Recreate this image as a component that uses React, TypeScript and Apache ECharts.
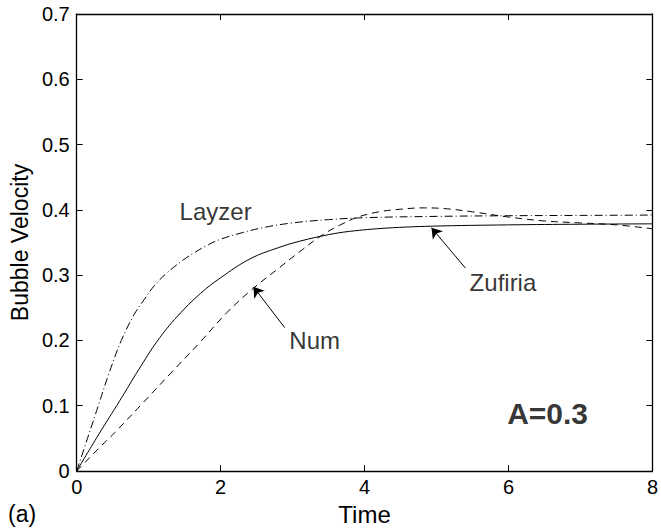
import React, { useEffect, useRef } from "react";
import * as echarts from "echarts";

// Layzer model (dash-dot)
const layzerT = [0, 0.15, 0.3, 0.45, 0.62, 0.8, 0.94, 1.08, 1.25, 1.49, 1.63, 1.8, 2.0, 2.3, 2.6, 3.0, 3.5, 4.0, 5.0, 6.0, 7.0, 8.0];
const layzerV = [0, 0.05, 0.1, 0.15, 0.2, 0.24, 0.263, 0.284, 0.303, 0.324, 0.334, 0.345, 0.355, 0.365, 0.373, 0.38, 0.385, 0.388, 0.39, 0.391, 0.3915, 0.392];

// Zufiria model (solid)
const zufiriaT = [0, 0.3, 0.6, 0.86, 1.12, 1.4, 1.72, 2.0, 2.41, 2.8, 3.1, 3.5, 3.79, 4.3, 4.94, 6.0, 7.0, 8.0];
const zufiriaV = [0, 0.055, 0.108, 0.155, 0.199, 0.237, 0.272, 0.296, 0.325, 0.342, 0.352, 0.362, 0.367, 0.372, 0.375, 0.377, 0.378, 0.3786];

// Numerical simulation (dashed)
const numT = [0, 0.3, 0.53, 0.9, 1.3, 1.72, 2.09, 2.456, 2.8, 3.1, 3.42, 3.7, 3.91, 4.2, 4.5, 4.8, 5.1, 5.5, 6.0, 6.5, 7.0, 7.5, 8.0];
const numV = [0, 0.034, 0.059, 0.102, 0.149, 0.198, 0.243, 0.28, 0.31, 0.336, 0.362, 0.379, 0.389, 0.397, 0.401, 0.403, 0.402, 0.397, 0.389, 0.383, 0.38, 0.377, 0.371];

// Text annotations (data coordinates of label centres)
const labelTexts = ["Layzer", "Num", "Zufiria", "A=0.3"];
const labelT = [1.93, 3.306, 5.923, 6.543];
const labelV = [0.397, 0.2, 0.289, 0.088];

// Arrows: [tailT, tailV, tipT, tipV]
const arrowZufiria = [5.4, 0.311, 4.93, 0.3725];
const arrowNum = [2.89, 0.2196, 2.456, 0.282];

const xTicks = { min: 0, max: 8, interval: 2 };
const yTicks = { min: 0, max: 0.7, interval: 0.1 };

const zip = (t: number[], v: number[]) => t.map((x, i) => [x, v[i]]);
const FONT = "Liberation Sans";

export default function App() {
  const ref = useRef<HTMLDivElement>(null);
  useEffect(() => {
    document.body.style.margin = "0";
    const chart = echarts.init(ref.current!, null, { renderer: "svg" });
    const axisLine = { show: true, onZero: false, lineStyle: { color: "#000", width: 1.3 } };
    const axisTick = { show: true, inside: true, length: 6, lineStyle: { color: "#000", width: 1 } };
    const labelStyle = { color: "#000", fontSize: 20, fontFamily: FONT };
    const curve = { type: "line", smooth: 0.4, showSymbol: false, silent: true };
    chart.setOption({
      animation: false,
      backgroundColor: "#fff",
      grid: { left: 75, right: 5, top: 14, bottom: 59, containLabel: false },
      xAxis: [
        {
          type: "value",
          ...xTicks,
          position: "bottom",
          axisLine,
          axisTick,
          splitLine: { show: false },
          axisLabel: { ...labelStyle, margin: 6 },
          name: "Time",
          nameLocation: "middle",
          nameGap: 31,
          nameTextStyle: { color: "#000", fontSize: 24, fontFamily: FONT },
        },
        {
          type: "value",
          ...xTicks,
          position: "top",
          axisLine,
          axisTick,
          splitLine: { show: false },
          axisLabel: { show: false },
        },
      ],
      yAxis: [
        {
          type: "value",
          ...yTicks,
          position: "left",
          axisLine,
          axisTick,
          splitLine: { show: false },
          axisLabel: {
            ...labelStyle,
            margin: 7,
            formatter: (v: number) => (v === 0 ? "0" : v.toFixed(1)),
          },
          name: "Bubble Velocity",
          nameLocation: "middle",
          nameGap: 43,
          nameTextStyle: { color: "#000", fontSize: 23, fontFamily: FONT },
        },
        {
          type: "value",
          ...yTicks,
          position: "right",
          axisLine,
          axisTick,
          splitLine: { show: false },
          axisLabel: { show: false },
        },
      ],
      series: [
        {
          ...curve,
          name: "Layzer",
          data: zip(layzerT, layzerV),
          lineStyle: { color: "#000", width: 1, type: [8, 3, 1, 3] },
        },
        {
          ...curve,
          name: "Zufiria",
          data: zip(zufiriaT, zufiriaV),
          lineStyle: { color: "#000", width: 1, type: "solid" },
          markLine: {
            silent: true,
            symbol: ["none", "arrow"],
            symbolSize: 10,
            label: { show: false },
            lineStyle: { color: "#000", width: 1, type: "solid" },
            emphasis: { disabled: true },
            data: [
              [{ coord: [arrowZufiria[0], arrowZufiria[1]] }, { coord: [arrowZufiria[2], arrowZufiria[3]] }],
              [{ coord: [arrowNum[0], arrowNum[1]] }, { coord: [arrowNum[2], arrowNum[3]] }],
            ],
          },
        },
        {
          ...curve,
          name: "Num",
          data: zip(numT, numV),
          lineStyle: { color: "#000", width: 1, type: [7, 5] },
        },
        {
          name: "labels",
          type: "scatter",
          silent: true,
          symbolSize: 1,
          itemStyle: { color: "rgba(0,0,0,0)" },
          data: labelTexts.map((txt, i) => ({
            value: [labelT[i], labelV[i]],
            label: {
              show: true,
              position: "inside",
              formatter: txt,
              color: "#000",
              fontFamily: FONT,
              fontSize: txt === "A=0.3" ? 30 : 24,
              fontWeight: txt === "A=0.3" ? "bold" : "normal",
            },
          })),
        },
      ],
      graphic: [
        {
          type: "text",
          left: 8,
          top: 502,
          style: { text: "(a)", fontSize: 23, fontFamily: FONT, fill: "#000" },
        },
      ],
    });
    return () => chart.dispose();
  }, []);
  return <div ref={ref} style={{ width: 661, height: 531 }} />;
}
